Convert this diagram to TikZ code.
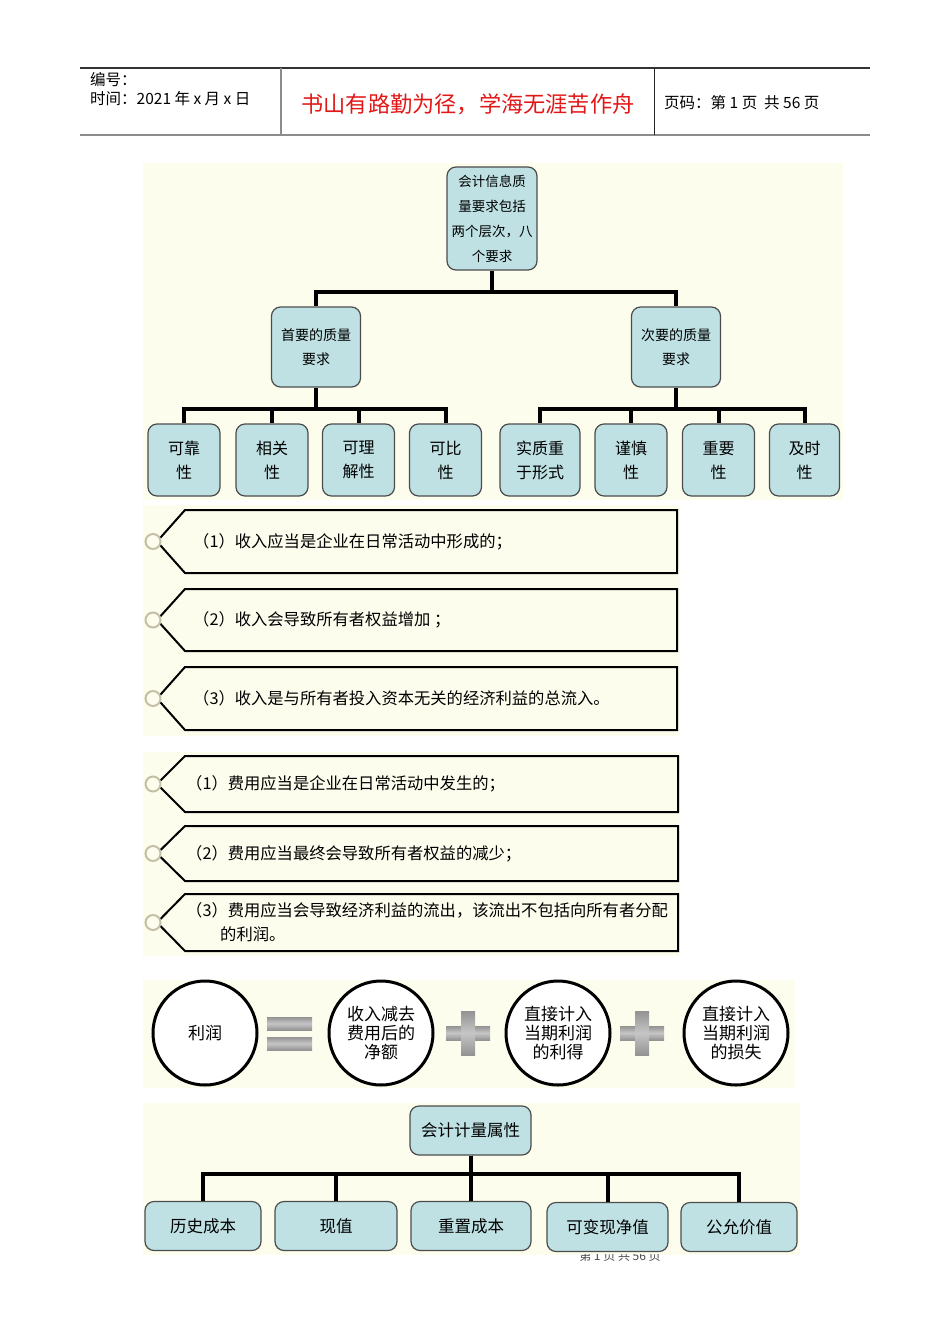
\documentclass[tikz,border=0pt]{standalone}
\usepackage{fontspec}
\newfontfamily\cjk{Noto Sans CJK SC}
\usetikzlibrary{calc}
\definecolor{cBox}{RGB}{191,225,228}
\definecolor{cCream}{RGB}{253,253,238}
\definecolor{cRed}{RGB}{226,24,24}
\definecolor{cRing}{RGB}{196,192,166}
\tikzset{
	qbox/.style   ={rectangle, rounded corners=9pt, draw=black!70, line width=1.2pt, fill=cBox, align=center, inner sep=1pt, font=\cjk\fontsize{14}{24}\selectfont},
	leaf/.style   ={qbox, minimum width=72, minimum height=72, font=\cjk\fontsize{16}{24}\selectfont},
	mbox/.style   ={qbox, minimum width=118, minimum height=49, font=\cjk\fontsize{16.5}{20}\selectfont},
	branch/.style ={line width=4pt, black},
	% tag list styles
	tagline/.style={line width=2pt, black, fill=cCream, line join=miter},
	ring/.style   ={line width=2pt, cRing, fill=cCream},
	itemtext/.style={anchor=west, align=left, inner sep=0pt, font=\cjk\fontsize{16.3}{24}\selectfont},
	% equation styles
	bubble/.style ={circle, draw=black, line width=3pt, fill=white, minimum size=104, inner sep=0pt, align=center, font=\cjk\fontsize{17}{19}\selectfont},
	opbar/.style  ={top color=gray!85, bottom color=gray!85, middle color=gray!45},
	hdr/.style    ={anchor=west, inner sep=0pt, font=\cjk\fontsize{15.5}{17}\selectfont},
}

\begin{document}
\begin{tikzpicture}[x=1pt, y=-1pt]
	\useasboundingbox (0,0) rectangle (950,1344);
	\fill[white] (0,0) rectangle (950,1344);
	% header
	\draw[black!80, line width=1.2pt] (80,68) -- (870,68);
	\draw[gray!90, line width=2pt] (80,135) -- (870,135);
	\draw[gray!90, line width=2pt] (281,68) -- (281,135);
	\draw[black!85, line width=1pt] (654,68) -- (654,135);
	\node[hdr] (hdrNum) at (90,80) {编号：};
	\node[hdr] (hdrTime) at (90,99) {时间：2021 年 x 月 x 日};
	\node[inner sep=0pt, text=cRed, font=\cjk\fontsize{22.2}{24}\selectfont] (motto) at (468,104) {书山有路勤为径，学海无涯苦作舟};
	\node[hdr] (pageNo) at (664,103) {页码：第 1 页\ \ 共 56 页};

	% backgrounds
	\fill[cCream] (143,163) rectangle (843,500);
	\fill[cCream] (143,505) rectangle (680,736);
	\fill[cCream] (143,752) rectangle (680,956);
	\fill[cCream] (143,980) rectangle (795,1088);
	\fill[cCream] (143,1103) rectangle (800,1255);

	% quality requirements tree
	\node[qbox, minimum width=90, minimum height=103, font=\cjk\fontsize{13.5}{25}\selectfont] (root) at (492,218.5) {会计信息质\\量要求包括\\两个层次，八\\个要求};
	\node[qbox, minimum width=89, minimum height=80] (prim) at (316,347) {首要的质量\\要求};
	\node[qbox, minimum width=89, minimum height=80] (sec) at (676,347) {次要的质量\\要求};
	\node[leaf] (q1) at (184,460) {可靠\\性};
	\node[leaf] (q2) at (272,460) {相关\\性};
	\node[leaf] (q3) at (358.5,460) {可理\\解性};
	\node[leaf] (q4) at (445.5,460) {可比\\性};
	\node[leaf, minimum width=80] (q5) at (540,460) {实质重\\于形式};
	\node[leaf] (q6) at (631,460) {谨慎\\性};
	\node[leaf] (q7) at (718.5,460) {重要\\性};
	\node[leaf, minimum width=70] (q8) at (804.5,460) {及时\\性};
	\draw[branch] (root.south) -- ++(0,21) -| (prim.north);
	\draw[branch] (root.south) -- ++(0,21) -| (sec.north);
	\foreach \c in {q1,q2,q3,q4}
		\draw[branch] (prim.south) -- ++(0,21) -| (\c.north);
	\foreach \c in {q5,q6,q7,q8}
		\draw[branch] (sec.south) -- ++(0,21) -| (\c.north);

	% income and expense tags
	\foreach \yt/\yb/\nm/\txt in {
		510/573/inc1/{（1）收入应当是企业在日常活动中形成的；},
		589/651/inc2/{（2）收入会导致所有者权益增加\ ；},
		667/730/inc3/{（3）收入是与所有者投入资本无关的经济利益的总流入。}}{
		\draw[tagline] (185,\yt) -- (677,\yt) -- (677,\yb) -- (185,\yb) -- (157,{(\yt+\yb)/2}) -- cycle;
		\draw[ring] (153,{(\yt+\yb)/2}) circle (7.5);
		\node[itemtext] (\nm) at (193,{(\yt+\yb)/2}) {\txt};
	}
	\foreach \yt/\yb/\nm/\txt in {
		756/812/exp1/{（1）费用应当是企业在日常活动中发生的；},
		826/881/exp2/{（2）费用应当最终会导致所有者权益的减少；},
		894/951/exp3/{（3）费用应当会导致经济利益的流出，该流出不包括向所有者分配\\\hspace*{34pt}的利润。}}{
		\draw[tagline] (185,\yt) -- (678,\yt) -- (678,\yb) -- (185,\yb) -- (157,{(\yt+\yb)/2}) -- cycle;
		\draw[ring] (153,{(\yt+\yb)/2}) circle (7.5);
		\node[itemtext] (\nm) at (186,{(\yt+\yb)/2}) {\txt};
	}

	% profit equation
	\node[bubble] (profit) at (205,1033) {利润};
	\node[bubble] (netinc) at (381,1033) {收入减去\\费用后的\\净额};
	\node[bubble] (gain) at (558,1033) {直接计入\\当期利润\\的利得};
	\node[bubble] (loss) at (736,1033) {直接计入\\当期利润\\的损失};
	\shade[opbar] (267,1017) rectangle (312,1030);
	\shade[opbar] (267,1037) rectangle (312,1050);
	\foreach \px in {468,642}{
		\shade[opbar] (\px-22,1026) rectangle (\px+22,1040);
		\shade[opbar] (\px-7,1011) rectangle (\px+7,1055);
	}

	% measurement attributes tree
	\node[mbox, minimum width=121] (meas) at (470.5,1130.5) {会计计量属性};
	\node[mbox, minimum width=116] (m1) at (203,1226) {历史成本};
	\node[mbox, minimum width=122] (m2) at (336,1226) {现值};
	\node[mbox, minimum width=120] (m3) at (471,1226) {重置成本};
	\node[mbox, minimum width=121] (m4) at (607.5,1227) {可变现净值};
	\node[mbox, minimum width=116] (m5) at (739,1227) {公允价值};
	\foreach \c in {m1,m2,m3,m4,m5}
		\draw[branch] (meas.south) -- ++(0,18) -| (\c.north);

	% cut page footer
	\begin{scope}
		\clip (550,1254) rectangle (700,1270);
		\node[inner sep=0pt, text=black!70, font=\cjk\fontsize{12}{14}\selectfont] (footer) at (620,1256) {第\ 1\ 页\ 共\ 56\ 页};
	\end{scope}
\end{tikzpicture}
\end{document}
